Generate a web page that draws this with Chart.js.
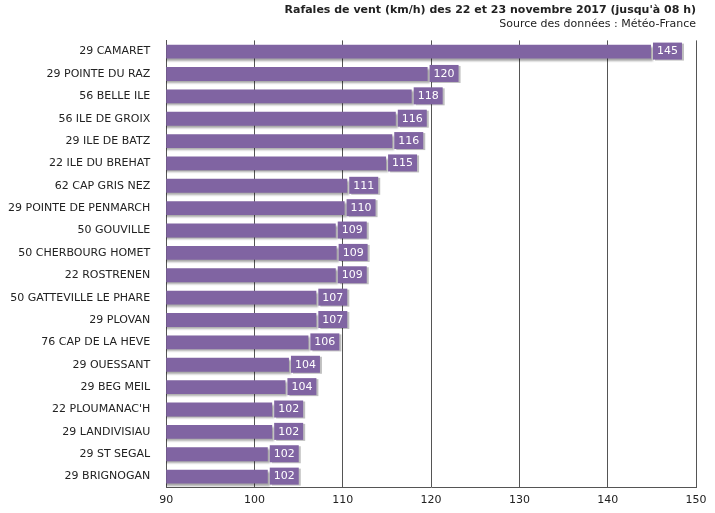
<!DOCTYPE html>
<html>
<head>
<meta charset="utf-8">
<script src="https://cdn.jsdelivr.net/npm/chart.js@4"></script>
<style>
body { margin: 0; background: #fff; }
#wrap { width: 715px; height: 513px; position: relative; }
</style>
</head>
<body>
<div id="wrap"><canvas id="c"></canvas></div>
<script>
const stations = ['29 CAMARET', '29 POINTE DU RAZ', '56 BELLE ILE', '56 ILE DE GROIX', '29 ILE DE BATZ',
  '22 ILE DU BREHAT', '62 CAP GRIS NEZ', '29 POINTE DE PENMARCH', '50 GOUVILLE', '50 CHERBOURG HOMET',
  '22 ROSTRENEN', '50 GATTEVILLE LE PHARE', '29 PLOVAN', '76 CAP DE LA HEVE', '29 OUESSANT',
  '29 BEG MEIL', "22 PLOUMANAC'H", '29 LANDIVISIAU', '29 ST SEGAL', '29 BRIGNOGAN'];
const rafales = [144.9, 119.6, 117.8, 116.0, 115.6, 114.9, 110.5, 110.2, 109.2, 109.3,
  109.2, 107.0, 107.0, 106.1, 103.9, 103.5, 102.0, 102.0, 101.5, 101.5];
const xTicks = [90, 100, 110, 120, 130, 140, 150];

const FONT = 'DejaVu Sans';
const purple = '#8064a2';

// boîtes avec la valeur au bout de chaque barre
const labelBoxes = {
  id: 'labelBoxes',
  afterDatasetsDraw(chart) {
    const ctx = chart.ctx;
    const meta = chart.getDatasetMeta(0);
    ctx.save();
    ctx.font = '11px ' + FONT;
    ctx.textBaseline = 'middle';
    meta.data.forEach((bar, i) => {
      const txt = String(Math.round(rafales[i]));
      const w = ctx.measureText(txt).width + 8;
      const x = bar.x + 2, y = bar.y;
      ctx.fillStyle = 'rgba(0,0,0,0.25)';
      ctx.fillRect(x + 2, y - 8, w, 17);
      ctx.fillStyle = purple;
      ctx.fillRect(x, y - 9, w, 17);
      ctx.fillStyle = '#fff';
      ctx.fillText(txt, x + 4, y);
    });
    ctx.restore();
  }
};

// ombre sous les barres
const barShadow = {
  id: 'barShadow',
  beforeDatasetsDraw(chart) {
    chart.ctx.save();
    chart.ctx.shadowColor = 'rgba(0,0,0,0.35)';
    chart.ctx.shadowOffsetX = 2;
    chart.ctx.shadowOffsetY = 2;
    chart.ctx.shadowBlur = 2;
  },
  afterDatasetsDraw(chart) { chart.ctx.restore(); }
};

new Chart(document.getElementById('c'), {
  type: 'bar',
  data: {
    labels: stations,
    datasets: [{ data: rafales, backgroundColor: purple, borderWidth: 0, categoryPercentage: 1, barPercentage: 0.62 }]
  },
  plugins: [barShadow, labelBoxes],
  options: {
    indexAxis: 'y',
    responsive: true,
    maintainAspectRatio: false,
    animation: false,
    layout: { padding: { top: 0, right: 19, left: 0, bottom: 0 } },
    plugins: {
      legend: { display: false },
      tooltip: { enabled: false },
      title: {
        display: true, text: "Rafales de vent (km/h) des 22 et 23 novembre 2017 (jusqu'à 08 h)",
        align: 'end', color: '#222', font: { family: FONT, size: 11, weight: 'bold' },
        padding: { top: 4, bottom: 0 }
      },
      subtitle: {
        display: true, text: 'Source des données : Météo-France',
        align: 'end', color: '#222', font: { family: FONT, size: 11 },
        padding: { top: 0, bottom: 10 }
      }
    },
    scales: {
      x: {
        min: 90, max: 150,
        afterBuildTicks(axis) { axis.ticks = xTicks.map(v => ({ value: v })); },
        grid: { color: '#555', drawTicks: false },
        border: { color: '#555' },
        ticks: { color: '#222', font: { family: FONT, size: 11 }, padding: 6 }
      },
      y: {
        grid: { display: false },
        border: { color: '#555' },
        ticks: { color: '#222', font: { family: FONT, size: 11 }, padding: 8, autoSkip: false }
      }
    }
  }
});
</script>
</body>
</html>
